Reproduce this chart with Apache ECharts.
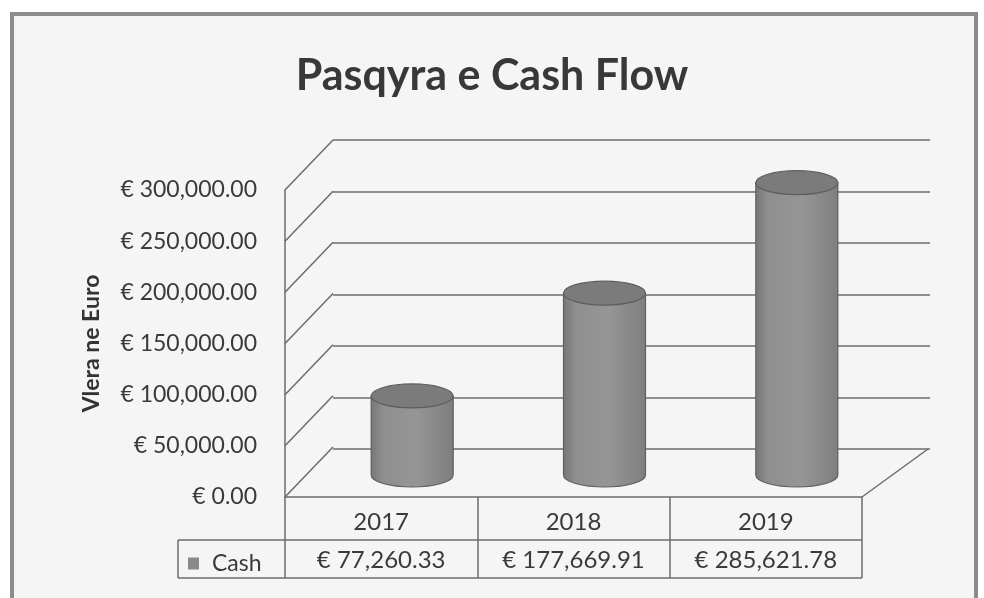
<!DOCTYPE html>
<html>
<head>
    <meta charset="utf-8">
    <title>Pasqyra e Cash Flow</title>
    <script src="https://cdn.jsdelivr.net/npm/echarts@6/dist/echarts.min.js"></script>
    <style>
        html, body { margin: 0; padding: 0; background: #fff; }
        #main { width: 984px; height: 598px; }
    </style>
</head>
<body>
<div id="main"></div>
<script type="text/javascript">
    // data
    var years = ['2017', '2018', '2019'];
    var cash = [77260.33, 177669.91, 285621.78];
    var yTicks = [0, 50000, 100000, 150000, 200000, 250000, 300000];

    var font = 'Lato, "Open Sans", sans-serif';
    var lineColor = '#6c6c6c';
    var textColor = '#3a3a3a';

    function euro(v) {
        return '€ ' + v.toLocaleString('en-US', {minimumFractionDigits: 2, maximumFractionDigits: 2});
    }

    var myChart = echarts.init(document.getElementById('main'));

    // depth of the 3D box (back wall offset) and cylinder offset
    var wallDx = 48, wallDy = -50;
    var cylDx = 31, cylDy = -22, cylRx = 41, cylRy = 12;

    var option = {
        backgroundColor: '#ffffff',
        animation: false,
        title: {
            text: 'Pasqyra e Cash Flow',
            left: 'center',
            top: 50,
            textStyle: { fontFamily: font, fontSize: 43, fontWeight: 'bold', color: '#383838' }
        },
        legend: {
            left: 183,
            top: 547,
            icon: 'rect',
            itemWidth: 11,
            itemHeight: 12,
            data: ['Cash'],
            textStyle: { fontFamily: font, fontSize: 23, color: textColor, padding: [0, 0, 0, 8] }
        },
        graphic: [
            {
                type: 'rect', z: -10,
                shape: { x: 12, y: 14, width: 964, height: 600 },
                style: { fill: '#f5f5f5', stroke: '#8c8c8c', lineWidth: 4 }
            },
            { type: 'line', shape: { x1: 178, y1: 540, x2: 862, y2: 540 }, style: { stroke: lineColor, lineWidth: 1.5 } },
            { type: 'line', shape: { x1: 178, y1: 578, x2: 862, y2: 578 }, style: { stroke: lineColor, lineWidth: 1.5 } },
            { type: 'line', shape: { x1: 178, y1: 540, x2: 178, y2: 578 }, style: { stroke: lineColor, lineWidth: 1.5 } }
        ],
        grid: [
            // front plane
            { left: 285, right: 122, top: 190, bottom: 101 },
            // back wall
            { left: 333, right: 54, top: 140, bottom: 149 }
        ],
        xAxis: [
            {
                type: 'category',
                gridIndex: 0,
                data: years,
                axisLine: { lineStyle: { color: lineColor, width: 1.5 } },
                axisTick: { show: true, length: 81, alignWithLabel: false, lineStyle: { color: lineColor, width: 1.5 } },
                axisLabel: {
                    margin: 6,
                    formatter: function (val, idx) {
                        return '{y|' + val + '}\n{v|' + euro(cash[idx]) + '}';
                    },
                    rich: {
                        y: { fontFamily: font, fontSize: 24, color: textColor, lineHeight: 38 },
                        v: { fontFamily: font, fontSize: 24, color: textColor, lineHeight: 38 }
                    }
                }
            },
            { type: 'category', gridIndex: 1, data: years, show: false }
        ],
        yAxis: [
            {
                type: 'value',
                gridIndex: 0,
                min: 0, max: 300000, interval: 50000,
                name: 'Vlera ne Euro',
                nameLocation: 'middle',
                nameGap: 182,
                nameTextStyle: { fontFamily: font, fontSize: 23, fontWeight: 'bold', color: '#333' },
                axisLine: { show: true, lineStyle: { color: lineColor, width: 1.5 } },
                axisTick: { show: false },
                splitLine: { show: false },
                axisLabel: {
                    margin: 28,
                    fontFamily: font, fontSize: 23, color: textColor,
                    formatter: function (v) { return euro(v); }
                }
            },
            {
                type: 'value',
                gridIndex: 1,
                min: 0, max: 300000, interval: 50000,
                axisLine: { show: false },
                axisTick: { show: false },
                axisLabel: { show: false },
                splitLine: { show: true, lineStyle: { color: lineColor, width: 1.5 } }
            }
        ],
        series: [
            {
                // diagonals joining the front axis to the back wall
                type: 'custom',
                name: 'wall',
                xAxisIndex: 0, yAxisIndex: 0,
                silent: true,
                data: yTicks.map(function (v) { return [0, v]; }),
                renderItem: function (params, api) {
                    var cs = params.coordSys;
                    var y = api.coord([0, api.value(1)])[1];
                    var children = [{
                        type: 'line',
                        shape: { x1: cs.x, y1: y, x2: cs.x + wallDx, y2: y + wallDy },
                        style: { stroke: lineColor, lineWidth: 1.5 }
                    }];
                    if (api.value(1) === 0) {
                        children.push({
                            type: 'line',
                            shape: { x1: cs.x + cs.width, y1: y, x2: cs.x + cs.width + 66, y2: y - 48 },
                            style: { stroke: lineColor, lineWidth: 1.5 }
                        });
                    }
                    return { type: 'group', children: children };
                }
            },
            {
                type: 'custom',
                name: 'Cash',
                xAxisIndex: 0, yAxisIndex: 0,
                itemStyle: { color: '#8a8a8a' },
                data: cash.map(function (v, i) { return [i, v]; }),
                renderItem: function (params, api) {
                    var top = api.coord([api.value(0), api.value(1)]);
                    var base = api.coord([api.value(0), 0]);
                    var cx = top[0] + cylDx;
                    var ty = top[1] + cylDy;
                    var by = base[1] + cylDy;
                    var l = cx - cylRx, r = cx + cylRx;
                    var body = 'M' + l + ' ' + ty + ' L' + l + ' ' + by +
                        ' A' + cylRx + ' ' + cylRy + ' 0 0 0 ' + r + ' ' + by +
                        ' L' + r + ' ' + ty + ' Z';
                    return {
                        type: 'group',
                        children: [
                            {
                                type: 'path',
                                shape: { pathData: body },
                                style: {
                                    fill: new echarts.graphic.LinearGradient(0, 0, 1, 0, [
                                        { offset: 0, color: '#767676' },
                                        { offset: 0.15, color: '#8e8e8e' },
                                        { offset: 0.55, color: '#969696' },
                                        { offset: 1, color: '#7e7e7e' }
                                    ]),
                                    stroke: '#5e5e5e',
                                    lineWidth: 1.2
                                }
                            },
                            {
                                type: 'ellipse',
                                shape: { cx: cx, cy: ty, rx: cylRx, ry: cylRy },
                                style: { fill: '#7b7b7b', stroke: '#5e5e5e', lineWidth: 1.2 }
                            }
                        ]
                    };
                }
            }
        ]
    };

    myChart.setOption(option);
</script>
</body>
</html>
